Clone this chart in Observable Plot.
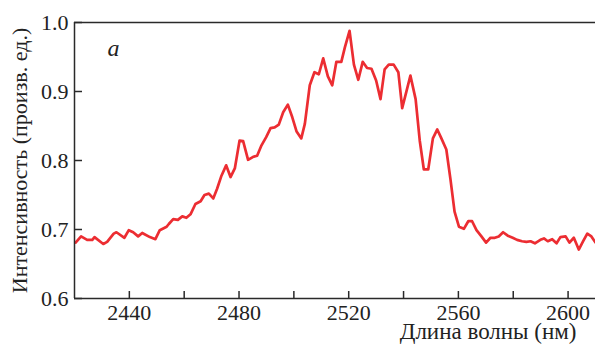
<!DOCTYPE html>
<html>
<head>
<meta charset="utf-8">
<script src="https://cdn.jsdelivr.net/npm/d3@7"></script>
<script src="https://cdn.jsdelivr.net/npm/@observablehq/plot@0.6"></script>
<style>
  html, body { margin: 0; padding: 0; background: #fff; }
</style>
</head>
<body>
<div id="chart"></div>
<script>
// Wavelength (nm)
const wavelength = [
  2420.4, 2422.4, 2424.6, 2426.5, 2427.3, 2430.5, 2431.9, 2434.3, 2435.3, 2438.2,
  2439.8, 2441.4, 2443.2, 2444.7, 2447.5, 2449.5, 2451.1, 2453.6, 2454.4, 2456.0,
  2457.7, 2459.3, 2460.8, 2462.3, 2464.1, 2466.0, 2467.4, 2469.0, 2470.6, 2472.0,
  2473.6, 2475.3, 2476.9, 2478.5, 2480.2, 2481.5, 2483.3, 2485.0, 2486.6, 2488.2,
  2489.9, 2491.5, 2493.0, 2494.5, 2496.1, 2497.8, 2499.4, 2501.0, 2502.7, 2504.0,
  2505.8, 2507.5, 2509.1, 2510.7, 2512.4, 2514.0, 2515.5, 2517.3, 2518.6, 2520.3,
  2521.9, 2523.5, 2525.1, 2526.7, 2528.3, 2530.0, 2531.6, 2533.1, 2534.6, 2536.4,
  2538.1, 2539.5, 2541.1, 2542.5, 2544.4, 2545.9, 2547.4, 2549.0, 2550.7, 2552.3,
  2553.8, 2555.6, 2557.1, 2558.6, 2560.2, 2562.0, 2563.6, 2565.0, 2566.6, 2568.4,
  2570.1, 2571.7, 2573.3, 2574.7, 2576.3, 2578.0, 2579.8, 2581.4, 2583.2, 2584.8,
  2586.3, 2587.9, 2589.9, 2591.2, 2592.6, 2594.2, 2595.8, 2597.2, 2599.1, 2600.5,
  2602.1, 2603.9, 2605.5, 2607.0, 2608.5, 2610.0
];
// Intensity (arb. units)
const intensity = [
  0.681, 0.690, 0.685, 0.685, 0.689, 0.679, 0.682, 0.694, 0.696, 0.688,
  0.699, 0.696, 0.690, 0.695, 0.689, 0.686, 0.699, 0.704, 0.708, 0.715,
  0.714, 0.719, 0.717, 0.722, 0.737, 0.741, 0.750, 0.752, 0.745, 0.759,
  0.778, 0.793, 0.776, 0.789, 0.829, 0.828, 0.801, 0.805, 0.807, 0.822,
  0.834, 0.847, 0.848, 0.852, 0.870, 0.881, 0.863, 0.842, 0.832, 0.853,
  0.909, 0.928, 0.925, 0.948, 0.922, 0.909, 0.943, 0.943, 0.964, 0.988,
  0.939, 0.917, 0.943, 0.934, 0.933, 0.916, 0.889, 0.932, 0.939, 0.939,
  0.928, 0.876, 0.901, 0.923, 0.889, 0.829, 0.787, 0.787, 0.832, 0.845,
  0.832, 0.816, 0.773, 0.726, 0.704, 0.701, 0.712, 0.712, 0.699, 0.690,
  0.681, 0.688, 0.688, 0.690, 0.696, 0.691, 0.688, 0.685, 0.683, 0.682,
  0.683, 0.680, 0.685, 0.687, 0.683, 0.686, 0.680, 0.689, 0.690, 0.681,
  0.688, 0.671, 0.683, 0.694, 0.690, 0.681
];

const xDomain = [2420, 2610];
const yDomain = [0.6, 1.0];
const xTickMarks = [2440, 2460, 2480, 2500, 2520, 2540, 2560, 2580, 2600];
const xTickLabels = [2440, 2480, 2520, 2560, 2600];
const yTicks = [0.6, 0.7, 0.8, 0.9, 1.0];
const xLabel = "Длина волны (нм)";
const yLabel = "Интенсивность (произв. ед.)";
const panelLabel = "a";

const data = wavelength.map((w, i) => ({w, v: intensity[i]}));
const axisColor = "#2a2a2a";

const chart = Plot.plot({
  width: 595,
  height: 349,
  marginLeft: 74,
  marginRight: 0,
  marginTop: 22,
  marginBottom: 51,
  style: {fontFamily: "'Liberation Serif', 'DejaVu Serif', serif", fontSize: "22px", color: "#222", background: "#fff"},
  x: {domain: xDomain},
  y: {domain: yDomain},
  marks: [
    Plot.line(data, {x: "w", y: "v", stroke: "#ec2d32", strokeWidth: 2.7, clip: true}),
    // frame (left, top, bottom)
    Plot.ruleX([xDomain[0]], {stroke: axisColor, strokeWidth: 1.5}),
    Plot.ruleY([yDomain[0], yDomain[1]], {stroke: axisColor, strokeWidth: 1.5}),
    // inward ticks
    Plot.ruleX(xTickMarks, {x: d => d, y1: yDomain[0], y2: yDomain[0], insetTop: -7, stroke: axisColor, strokeWidth: 1.5}),
    Plot.ruleY(yTicks, {y: d => d, x1: xDomain[0], x2: xDomain[0], insetRight: -8, stroke: axisColor, strokeWidth: 1.5}),
    Plot.axisX({ticks: xTickLabels, tickSize: 0, tickPadding: 6, tickFormat: d => String(d), fontSize: 22, label: null}),
    Plot.axisY({ticks: yTicks, tickSize: 0, tickPadding: 6, tickFormat: d3.format(".1f"), fontSize: 22,
      label: yLabel, labelAnchor: "center", labelArrow: "none", labelOffset: 63}),
    Plot.text([xLabel], {text: d => d, frameAnchor: "bottom-right", textAnchor: "end", lineAnchor: "bottom", dx: -19, dy: 40, fontSize: 23}),
    Plot.text([panelLabel], {text: d => d, frameAnchor: "top-left", textAnchor: "start", lineAnchor: "bottom", dx: 33, dy: 33, fontSize: 24, fontStyle: "italic"})
  ]
});
document.getElementById("chart").appendChild(chart);
</script>
</body>
</html>
